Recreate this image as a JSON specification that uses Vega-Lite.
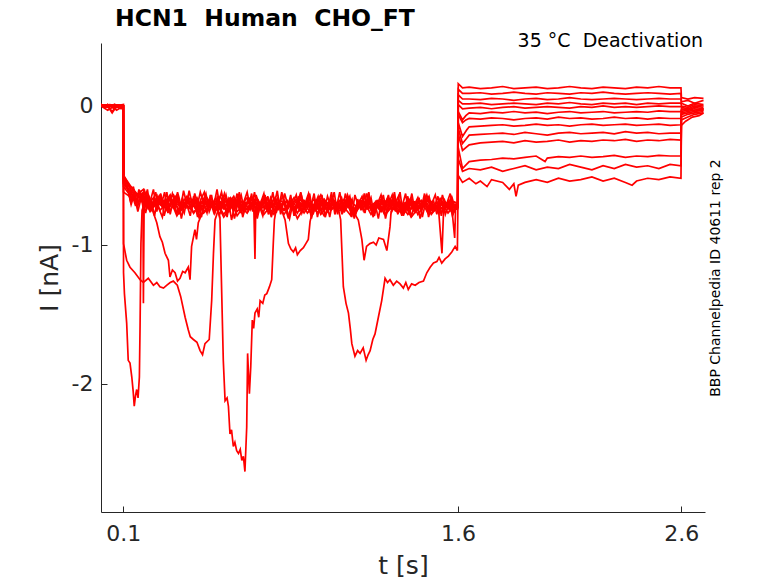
{
"$schema": "https://vega.github.io/schema/vega-lite/v6.json",
"width": 604, "height": 469,
"autosize": {"type": "none"},
"padding": {"left": 101, "top": 43, "right": 73, "bottom": 71},
"background": "white",
"title": {"text": "HCN1\u00a0 Human\u00a0 CHO_FT", "anchor": "start", "frame": "group", "font": "DejaVu Sans", "fontSize": 23.5, "fontWeight": "bold", "color": "#000000", "dx": 14, "offset": 2},
"config": {"view": {"stroke": null}},
"data": {"values": [
{"s":1,"t":0,"v":0.01},{"s":1,"t":0.03,"v":0.0},{"s":1,"t":0.06,"v":0.01},{"s":1,"t":0.1,"v":0.0},{"s":1,"t":0.101,"v":-0.52},
{"s":1,"t":0.115,"v":-0.55},{"s":1,"t":0.13,"v":-0.66},{"s":1,"t":0.145,"v":-0.58},{"s":1,"t":0.16,"v":-0.70},{"s":1,"t":0.175,"v":-0.61},{"s":1,"t":0.19,"v":-0.74},{"s":1,"t":0.205,"v":-0.63},{"s":1,"t":0.22,"v":-0.69},{"s":1,"t":0.235,"v":-0.60},{"s":1,"t":0.25,"v":-0.76},{"s":1,"t":0.265,"v":-0.66},{"s":1,"t":0.28,"v":-0.72},{"s":1,"t":0.295,"v":-0.62},{"s":1,"t":0.31,"v":-0.78},{"s":1,"t":0.325,"v":-0.67},{"s":1,"t":0.34,"v":-0.64},{"s":1,"t":0.355,"v":-0.75},{"s":1,"t":0.37,"v":-0.61},{"s":1,"t":0.385,"v":-0.71},{"s":1,"t":0.40,"v":-0.79},{"s":1,"t":0.415,"v":-0.65},{"s":1,"t":0.43,"v":-0.73},{"s":1,"t":0.445,"v":-0.62},{"s":1,"t":0.46,"v":-0.70},{"s":1,"t":0.475,"v":-0.77},{"s":1,"t":0.49,"v":-0.64},{"s":1,"t":0.505,"v":-0.72},{"s":1,"t":0.52,"v":-0.60},{"s":1,"t":0.535,"v":-0.75},{"s":1,"t":0.55,"v":-0.68},{"s":1,"t":0.565,"v":-0.80},{"s":1,"t":0.58,"v":-0.66},{"s":1,"t":0.595,"v":-0.73},{"s":1,"t":0.61,"v":-0.63},{"s":1,"t":0.625,"v":-0.77},{"s":1,"t":0.64,"v":-0.69},{"s":1,"t":0.655,"v":-0.62},{"s":1,"t":0.67,"v":-0.74},{"s":1,"t":0.685,"v":-0.67},{"s":1,"t":0.70,"v":-0.81},{"s":1,"t":0.715,"v":-0.70},{"s":1,"t":0.73,"v":-0.63},{"s":1,"t":0.745,"v":-0.76},{"s":1,"t":0.76,"v":-0.66},{"s":1,"t":0.775,"v":-0.72},{"s":1,"t":0.79,"v":-0.61},{"s":1,"t":0.805,"v":-0.78},{"s":1,"t":0.82,"v":-0.68},{"s":1,"t":0.835,"v":-0.74},{"s":1,"t":0.85,"v":-0.64},{"s":1,"t":0.865,"v":-0.79},{"s":1,"t":0.88,"v":-0.70},{"s":1,"t":0.895,"v":-0.62},{"s":1,"t":0.91,"v":-0.75},{"s":1,"t":0.925,"v":-0.67},{"s":1,"t":0.94,"v":-0.73},{"s":1,"t":0.955,"v":-0.63},{"s":1,"t":0.97,"v":-0.80},{"s":1,"t":0.985,"v":-0.69},{"s":1,"t":1.00,"v":-0.76},{"s":1,"t":1.015,"v":-0.65},{"s":1,"t":1.03,"v":-0.72},{"s":1,"t":1.045,"v":-0.62},{"s":1,"t":1.06,"v":-0.78},{"s":1,"t":1.075,"v":-0.68},{"s":1,"t":1.09,"v":-0.74},{"s":1,"t":1.105,"v":-0.64},{"s":1,"t":1.12,"v":-0.71},{"s":1,"t":1.135,"v":-0.81},{"s":1,"t":1.15,"v":-0.67},{"s":1,"t":1.165,"v":-0.75},{"s":1,"t":1.18,"v":-0.63},{"s":1,"t":1.195,"v":-0.72},{"s":1,"t":1.21,"v":-0.66},{"s":1,"t":1.225,"v":-0.79},{"s":1,"t":1.24,"v":-0.70},{"s":1,"t":1.255,"v":-0.64},{"s":1,"t":1.27,"v":-0.76},{"s":1,"t":1.285,"v":-0.68},{"s":1,"t":1.30,"v":-0.73},{"s":1,"t":1.315,"v":-0.62},{"s":1,"t":1.33,"v":-0.78},{"s":1,"t":1.345,"v":-0.69},{"s":1,"t":1.36,"v":-0.75},{"s":1,"t":1.375,"v":-0.65},{"s":1,"t":1.39,"v":-0.80},{"s":1,"t":1.405,"v":-0.71},{"s":1,"t":1.42,"v":-0.66},{"s":1,"t":1.435,"v":-0.74},{"s":1,"t":1.45,"v":-0.63},{"s":1,"t":1.465,"v":-0.77},{"s":1,"t":1.48,"v":-0.69},{"s":1,"t":1.495,"v":-0.72},{"s":1,"t":1.51,"v":-0.65},{"s":1,"t":1.525,"v":-0.79},{"s":1,"t":1.54,"v":-0.68},{"s":1,"t":1.555,"v":-0.74},{"s":1,"t":1.57,"v":-0.66},{"s":1,"t":1.585,"v":-0.75},{"s":1,"t":1.599,"v":-0.70},
{"s":1,"t":1.601,"v":0.16},{"s":1,"t":1.62,"v":0.13},{"s":1,"t":1.65,"v":0.135},{"s":1,"t":1.70,"v":0.125},{"s":1,"t":1.75,"v":0.13},{"s":1,"t":1.80,"v":0.14},{"s":1,"t":1.85,"v":0.125},{"s":1,"t":1.90,"v":0.13},{"s":1,"t":1.95,"v":0.135},{"s":1,"t":2.00,"v":0.125},{"s":1,"t":2.05,"v":0.13},{"s":1,"t":2.10,"v":0.14},{"s":1,"t":2.15,"v":0.13},{"s":1,"t":2.20,"v":0.125},{"s":1,"t":2.25,"v":0.135},{"s":1,"t":2.30,"v":0.13},{"s":1,"t":2.35,"v":0.125},{"s":1,"t":2.40,"v":0.135},{"s":1,"t":2.45,"v":0.13},{"s":1,"t":2.50,"v":0.14},{"s":1,"t":2.55,"v":0.13},{"s":1,"t":2.599,"v":0.13},
{"s":1,"t":2.601,"v":0.06},{"s":1,"t":2.63,"v":0.05},{"s":1,"t":2.66,"v":0.06},{"s":1,"t":2.70,"v":0.055},

{"s":2,"t":0,"v":0.0},{"s":2,"t":0.03,"v":-0.03},{"s":2,"t":0.06,"v":0.0},{"s":2,"t":0.1,"v":0.01},{"s":2,"t":0.101,"v":-0.56},
{"s":2,"t":0.12,"v":-0.60},{"s":2,"t":0.135,"v":-0.71},{"s":2,"t":0.15,"v":-0.63},{"s":2,"t":0.165,"v":-0.76},{"s":2,"t":0.18,"v":-0.66},{"s":2,"t":0.195,"v":-0.61},{"s":2,"t":0.21,"v":-0.73},{"s":2,"t":0.225,"v":-0.68},{"s":2,"t":0.24,"v":-0.79},{"s":2,"t":0.255,"v":-0.65},{"s":2,"t":0.27,"v":-0.71},{"s":2,"t":0.285,"v":-0.62},{"s":2,"t":0.30,"v":-0.77},{"s":2,"t":0.315,"v":-0.69},{"s":2,"t":0.33,"v":-0.74},{"s":2,"t":0.345,"v":-0.64},{"s":2,"t":0.36,"v":-0.81},{"s":2,"t":0.375,"v":-0.70},{"s":2,"t":0.39,"v":-0.66},{"s":2,"t":0.405,"v":-0.75},{"s":2,"t":0.42,"v":-0.63},{"s":2,"t":0.435,"v":-0.72},{"s":2,"t":0.45,"v":-0.80},{"s":2,"t":0.465,"v":-0.68},{"s":2,"t":0.48,"v":-0.74},{"s":2,"t":0.495,"v":-0.64},{"s":2,"t":0.51,"v":-0.77},{"s":2,"t":0.525,"v":-0.70},{"s":2,"t":0.54,"v":-0.62},{"s":2,"t":0.555,"v":-0.73},{"s":2,"t":0.57,"v":-0.67},{"s":2,"t":0.585,"v":-0.82},{"s":2,"t":0.60,"v":-0.71},{"s":2,"t":0.615,"v":-0.65},{"s":2,"t":0.63,"v":-0.76},{"s":2,"t":0.645,"v":-0.69},{"s":2,"t":0.66,"v":-0.74},{"s":2,"t":0.675,"v":-0.63},{"s":2,"t":0.69,"v":-0.79},{"s":2,"t":0.705,"v":-0.68},{"s":2,"t":0.72,"v":-0.72},{"s":2,"t":0.735,"v":-0.64},{"s":2,"t":0.75,"v":-0.78},{"s":2,"t":0.765,"v":-0.70},{"s":2,"t":0.78,"v":-0.66},{"s":2,"t":0.795,"v":-0.75},{"s":2,"t":0.81,"v":-0.62},{"s":2,"t":0.825,"v":-0.73},{"s":2,"t":0.84,"v":-0.81},{"s":2,"t":0.855,"v":-0.69},{"s":2,"t":0.87,"v":-0.74},{"s":2,"t":0.885,"v":-0.65},{"s":2,"t":0.90,"v":-0.77},{"s":2,"t":0.915,"v":-0.70},{"s":2,"t":0.93,"v":-0.63},{"s":2,"t":0.945,"v":-0.76},{"s":2,"t":0.96,"v":-0.68},{"s":2,"t":0.975,"v":-0.73},{"s":2,"t":0.99,"v":-0.64},{"s":2,"t":1.005,"v":-0.80},{"s":2,"t":1.02,"v":-0.71},{"s":2,"t":1.035,"v":-0.66},{"s":2,"t":1.05,"v":-0.75},{"s":2,"t":1.065,"v":-0.69},{"s":2,"t":1.08,"v":-0.78},{"s":2,"t":1.095,"v":-0.63},{"s":2,"t":1.11,"v":-0.72},{"s":2,"t":1.125,"v":-0.67},{"s":2,"t":1.14,"v":-0.79},{"s":2,"t":1.155,"v":-0.70},{"s":2,"t":1.17,"v":-0.65},{"s":2,"t":1.185,"v":-0.74},{"s":2,"t":1.20,"v":-0.62},{"s":2,"t":1.215,"v":-0.77},{"s":2,"t":1.23,"v":-0.69},{"s":2,"t":1.245,"v":-0.73},{"s":2,"t":1.26,"v":-0.66},{"s":2,"t":1.275,"v":-0.81},{"s":2,"t":1.29,"v":-0.70},{"s":2,"t":1.305,"v":-0.64},{"s":2,"t":1.32,"v":-0.76},{"s":2,"t":1.335,"v":-0.68},{"s":2,"t":1.35,"v":-0.72},{"s":2,"t":1.365,"v":-0.63},{"s":2,"t":1.38,"v":-0.78},{"s":2,"t":1.395,"v":-0.70},{"s":2,"t":1.41,"v":-0.74},{"s":2,"t":1.425,"v":-0.66},{"s":2,"t":1.44,"v":-0.80},{"s":2,"t":1.455,"v":-0.69},{"s":2,"t":1.47,"v":-0.65},{"s":2,"t":1.485,"v":-0.75},{"s":2,"t":1.50,"v":-0.71},{"s":2,"t":1.515,"v":-0.77},{"s":2,"t":1.53,"v":-0.64},{"s":2,"t":1.545,"v":-0.73},{"s":2,"t":1.56,"v":-0.68},{"s":2,"t":1.575,"v":-0.79},{"s":2,"t":1.59,"v":-0.71},{"s":2,"t":1.599,"v":-0.72},
{"s":2,"t":1.601,"v":0.12},{"s":2,"t":1.62,"v":0.09},{"s":2,"t":1.65,"v":0.09},{"s":2,"t":1.70,"v":0.095},{"s":2,"t":1.75,"v":0.085},{"s":2,"t":1.80,"v":0.09},{"s":2,"t":1.85,"v":0.10},{"s":2,"t":1.90,"v":0.09},{"s":2,"t":1.95,"v":0.085},{"s":2,"t":2.00,"v":0.095},{"s":2,"t":2.05,"v":0.09},{"s":2,"t":2.10,"v":0.085},{"s":2,"t":2.15,"v":0.095},{"s":2,"t":2.20,"v":0.09},{"s":2,"t":2.25,"v":0.10},{"s":2,"t":2.30,"v":0.09},{"s":2,"t":2.35,"v":0.085},{"s":2,"t":2.40,"v":0.09},{"s":2,"t":2.45,"v":0.095},{"s":2,"t":2.50,"v":0.09},{"s":2,"t":2.55,"v":0.085},{"s":2,"t":2.599,"v":0.09},
{"s":2,"t":2.601,"v":0.03},{"s":2,"t":2.63,"v":0.04},{"s":2,"t":2.66,"v":0.02},{"s":2,"t":2.70,"v":0.04},

{"s":3,"t":0,"v":0.01},{"s":3,"t":0.03,"v":0.0},{"s":3,"t":0.05,"v":-0.04},{"s":3,"t":0.07,"v":0.0},{"s":3,"t":0.1,"v":0.0},{"s":3,"t":0.101,"v":-0.50},
{"s":3,"t":0.125,"v":-0.57},{"s":3,"t":0.14,"v":-0.64},{"s":3,"t":0.155,"v":-0.72},{"s":3,"t":0.17,"v":-0.60},{"s":3,"t":0.185,"v":-0.68},{"s":3,"t":0.20,"v":-0.77},{"s":3,"t":0.215,"v":-0.65},{"s":3,"t":0.23,"v":-0.71},{"s":3,"t":0.245,"v":-0.62},{"s":3,"t":0.26,"v":-0.74},{"s":3,"t":0.275,"v":-0.80},{"s":3,"t":0.29,"v":-0.67},{"s":3,"t":0.305,"v":-0.73},{"s":3,"t":0.32,"v":-0.63},{"s":3,"t":0.335,"v":-0.70},{"s":3,"t":0.35,"v":-0.78},{"s":3,"t":0.365,"v":-0.66},{"s":3,"t":0.38,"v":-0.74},{"s":3,"t":0.395,"v":-0.61},{"s":3,"t":0.41,"v":-0.72},{"s":3,"t":0.425,"v":-0.68},{"s":3,"t":0.44,"v":-0.81},{"s":3,"t":0.455,"v":-0.69},{"s":3,"t":0.47,"v":-0.63},{"s":3,"t":0.485,"v":-0.76},{"s":3,"t":0.50,"v":-0.70},{"s":3,"t":0.515,"v":-0.66},{"s":3,"t":0.53,"v":-0.79},{"s":3,"t":0.545,"v":-0.72},{"s":3,"t":0.56,"v":-0.64},{"s":3,"t":0.575,"v":-0.75},{"s":3,"t":0.59,"v":-0.68},{"s":3,"t":0.605,"v":-0.73},{"s":3,"t":0.62,"v":-0.62},{"s":3,"t":0.635,"v":-0.80},{"s":3,"t":0.65,"v":-0.71},{"s":3,"t":0.665,"v":-0.67},{"s":3,"t":0.68,"v":-0.76},{"s":3,"t":0.695,"v":-0.64},{"s":3,"t":0.71,"v":-0.72},{"s":3,"t":0.725,"v":-0.79},{"s":3,"t":0.74,"v":-0.68},{"s":3,"t":0.755,"v":-0.74},{"s":3,"t":0.77,"v":-0.62},{"s":3,"t":0.785,"v":-0.77},{"s":3,"t":0.80,"v":-0.69},{"s":3,"t":0.815,"v":-0.65},{"s":3,"t":0.83,"v":-0.73},{"s":3,"t":0.845,"v":-0.81},{"s":3,"t":0.86,"v":-0.70},{"s":3,"t":0.875,"v":-0.64},{"s":3,"t":0.89,"v":-0.76},{"s":3,"t":0.905,"v":-0.68},{"s":3,"t":0.92,"v":-0.72},{"s":3,"t":0.935,"v":-0.63},{"s":3,"t":0.95,"v":-0.78},{"s":3,"t":0.965,"v":-0.71},{"s":3,"t":0.98,"v":-0.66},{"s":3,"t":0.995,"v":-0.74},{"s":3,"t":1.01,"v":-0.69},{"s":3,"t":1.025,"v":-0.80},{"s":3,"t":1.04,"v":-0.67},{"s":3,"t":1.055,"v":-0.73},{"s":3,"t":1.07,"v":-0.62},{"s":3,"t":1.085,"v":-0.76},{"s":3,"t":1.10,"v":-0.70},{"s":3,"t":1.115,"v":-0.65},{"s":3,"t":1.13,"v":-0.78},{"s":3,"t":1.145,"v":-0.72},{"s":3,"t":1.16,"v":-0.68},{"s":3,"t":1.175,"v":-0.75},{"s":3,"t":1.19,"v":-0.63},{"s":3,"t":1.205,"v":-0.71},{"s":3,"t":1.22,"v":-0.80},{"s":3,"t":1.235,"v":-0.69},{"s":3,"t":1.25,"v":-0.74},{"s":3,"t":1.265,"v":-0.64},{"s":3,"t":1.28,"v":-0.77},{"s":3,"t":1.295,"v":-0.70},{"s":3,"t":1.31,"v":-0.66},{"s":3,"t":1.325,"v":-0.73},{"s":3,"t":1.34,"v":-0.62},{"s":3,"t":1.355,"v":-0.79},{"s":3,"t":1.37,"v":-0.71},{"s":3,"t":1.385,"v":-0.67},{"s":3,"t":1.40,"v":-0.75},{"s":3,"t":1.415,"v":-0.69},{"s":3,"t":1.43,"v":-0.81},{"s":3,"t":1.445,"v":-0.70},{"s":3,"t":1.46,"v":-0.64},{"s":3,"t":1.475,"v":-0.73},{"s":3,"t":1.49,"v":-0.68},{"s":3,"t":1.505,"v":-0.78},{"s":3,"t":1.52,"v":-0.66},{"s":3,"t":1.535,"v":-0.74},{"s":3,"t":1.55,"v":-0.70},{"s":3,"t":1.565,"v":-0.63},{"s":3,"t":1.58,"v":-0.77},{"s":3,"t":1.595,"v":-0.72},
{"s":3,"t":1.601,"v":0.08},{"s":3,"t":1.62,"v":0.05},{"s":3,"t":1.65,"v":0.05},{"s":3,"t":1.70,"v":0.045},{"s":3,"t":1.75,"v":0.055},{"s":3,"t":1.80,"v":0.05},{"s":3,"t":1.85,"v":0.04},{"s":3,"t":1.90,"v":0.05},{"s":3,"t":1.95,"v":0.055},{"s":3,"t":2.00,"v":0.045},{"s":3,"t":2.05,"v":0.05},{"s":3,"t":2.10,"v":0.06},{"s":3,"t":2.15,"v":0.05},{"s":3,"t":2.20,"v":0.045},{"s":3,"t":2.25,"v":0.05},{"s":3,"t":2.30,"v":0.055},{"s":3,"t":2.35,"v":0.05},{"s":3,"t":2.40,"v":0.045},{"s":3,"t":2.45,"v":0.05},{"s":3,"t":2.50,"v":0.055},{"s":3,"t":2.55,"v":0.05},{"s":3,"t":2.599,"v":0.05},
{"s":3,"t":2.601,"v":0.02},{"s":3,"t":2.63,"v":0.0},{"s":3,"t":2.66,"v":0.02},{"s":3,"t":2.70,"v":0.01},

{"s":4,"t":0,"v":0.0},{"s":4,"t":0.03,"v":0.01},{"s":4,"t":0.06,"v":-0.02},{"s":4,"t":0.08,"v":0.0},{"s":4,"t":0.1,"v":0.0},{"s":4,"t":0.101,"v":-0.54},
{"s":4,"t":0.118,"v":-0.58},{"s":4,"t":0.133,"v":-0.69},{"s":4,"t":0.148,"v":-0.62},{"s":4,"t":0.163,"v":-0.73},{"s":4,"t":0.178,"v":-0.65},{"s":4,"t":0.193,"v":-0.70},{"s":4,"t":0.208,"v":-0.60},{"s":4,"t":0.223,"v":-0.76},{"s":4,"t":0.238,"v":-0.67},{"s":4,"t":0.253,"v":-0.72},{"s":4,"t":0.268,"v":-0.63},{"s":4,"t":0.283,"v":-0.79},{"s":4,"t":0.298,"v":-0.70},{"s":4,"t":0.313,"v":-0.66},{"s":4,"t":0.328,"v":-0.74},{"s":4,"t":0.343,"v":-0.62},{"s":4,"t":0.358,"v":-0.71},{"s":4,"t":0.373,"v":-0.77},{"s":4,"t":0.388,"v":-0.65},{"s":4,"t":0.403,"v":-0.73},{"s":4,"t":0.418,"v":-0.69},{"s":4,"t":0.433,"v":-0.80},{"s":4,"t":0.448,"v":-0.67},{"s":4,"t":0.463,"v":-0.62},{"s":4,"t":0.478,"v":-0.75},{"s":4,"t":0.493,"v":-0.70},{"s":4,"t":0.508,"v":-0.78},{"s":4,"t":0.523,"v":-0.66},{"s":4,"t":0.538,"v":-0.71},{"s":4,"t":0.553,"v":-0.63},{"s":4,"t":0.568,"v":-0.74},{"s":4,"t":0.583,"v":-0.68},{"s":4,"t":0.598,"v":-0.81},{"s":4,"t":0.613,"v":-0.70},{"s":4,"t":0.628,"v":-0.64},{"s":4,"t":0.643,"v":-0.76},{"s":4,"t":0.658,"v":-0.67},{"s":4,"t":0.673,"v":-0.73},{"s":4,"t":0.688,"v":-0.62},{"s":4,"t":0.703,"v":-0.78},{"s":4,"t":0.718,"v":-0.69},{"s":4,"t":0.733,"v":-0.74},{"s":4,"t":0.748,"v":-0.65},{"s":4,"t":0.763,"v":-0.80},{"s":4,"t":0.778,"v":-0.71},{"s":4,"t":0.793,"v":-0.66},{"s":4,"t":0.808,"v":-0.75},{"s":4,"t":0.823,"v":-0.63},{"s":4,"t":0.838,"v":-0.72},{"s":4,"t":0.853,"v":-0.68},{"s":4,"t":0.868,"v":-0.79},{"s":4,"t":0.883,"v":-0.70},{"s":4,"t":0.898,"v":-0.64},{"s":4,"t":0.913,"v":-0.74},{"s":4,"t":0.928,"v":-0.67},{"s":4,"t":0.943,"v":-0.81},{"s":4,"t":0.958,"v":-0.71},{"s":4,"t":0.973,"v":-0.65},{"s":4,"t":0.988,"v":-0.76},{"s":4,"t":1.003,"v":-0.69},{"s":4,"t":1.018,"v":-0.73},{"s":4,"t":1.033,"v":-0.62},{"s":4,"t":1.048,"v":-0.78},{"s":4,"t":1.063,"v":-0.70},{"s":4,"t":1.078,"v":-0.66},{"s":4,"t":1.093,"v":-0.75},{"s":4,"t":1.108,"v":-0.68},{"s":4,"t":1.123,"v":-0.80},{"s":4,"t":1.138,"v":-0.64},{"s":4,"t":1.153,"v":-0.72},{"s":4,"t":1.168,"v":-0.69},{"s":4,"t":1.183,"v":-0.77},{"s":4,"t":1.198,"v":-0.63},{"s":4,"t":1.213,"v":-0.74},{"s":4,"t":1.228,"v":-0.70},{"s":4,"t":1.243,"v":-0.81},{"s":4,"t":1.258,"v":-0.67},{"s":4,"t":1.273,"v":-0.72},{"s":4,"t":1.288,"v":-0.64},{"s":4,"t":1.303,"v":-0.76},{"s":4,"t":1.318,"v":-0.70},{"s":4,"t":1.333,"v":-0.65},{"s":4,"t":1.348,"v":-0.79},{"s":4,"t":1.363,"v":-0.71},{"s":4,"t":1.378,"v":-0.74},{"s":4,"t":1.393,"v":-0.63},{"s":4,"t":1.408,"v":-0.77},{"s":4,"t":1.423,"v":-0.69},{"s":4,"t":1.438,"v":-0.72},{"s":4,"t":1.453,"v":-0.66},{"s":4,"t":1.468,"v":-0.80},{"s":4,"t":1.483,"v":-0.70},{"s":4,"t":1.498,"v":-0.64},{"s":4,"t":1.513,"v":-0.75},{"s":4,"t":1.528,"v":-0.68},{"s":4,"t":1.543,"v":-0.78},{"s":4,"t":1.558,"v":-0.71},{"s":4,"t":1.573,"v":-0.66},{"s":4,"t":1.588,"v":-0.74},{"s":4,"t":1.599,"v":-0.69},
{"s":4,"t":1.601,"v":0.04},{"s":4,"t":1.62,"v":0.015},{"s":4,"t":1.65,"v":0.015},{"s":4,"t":1.70,"v":0.02},{"s":4,"t":1.75,"v":0.01},{"s":4,"t":1.80,"v":0.015},{"s":4,"t":1.85,"v":0.02},{"s":4,"t":1.90,"v":0.015},{"s":4,"t":1.95,"v":0.01},{"s":4,"t":2.00,"v":0.02},{"s":4,"t":2.05,"v":0.015},{"s":4,"t":2.10,"v":0.025},{"s":4,"t":2.15,"v":0.015},{"s":4,"t":2.20,"v":0.01},{"s":4,"t":2.25,"v":0.02},{"s":4,"t":2.30,"v":0.015},{"s":4,"t":2.35,"v":0.02},{"s":4,"t":2.40,"v":0.01},{"s":4,"t":2.45,"v":0.02},{"s":4,"t":2.50,"v":0.015},{"s":4,"t":2.55,"v":0.02},{"s":4,"t":2.599,"v":0.02},
{"s":4,"t":2.601,"v":0.0},{"s":4,"t":2.63,"v":-0.01},{"s":4,"t":2.66,"v":0.01},{"s":4,"t":2.70,"v":0.0},

{"s":5,"t":0,"v":0.0},{"s":5,"t":0.02,"v":-0.01},{"s":5,"t":0.04,"v":0.01},{"s":5,"t":0.07,"v":-0.03},{"s":5,"t":0.1,"v":0.0},{"s":5,"t":0.101,"v":-0.58},
{"s":5,"t":0.13,"v":-0.64},{"s":5,"t":0.16,"v":-0.70},{"s":5,"t":0.19,"v":-0.66},{"s":5,"t":0.22,"v":-0.76},{"s":5,"t":0.25,"v":-0.69},{"s":5,"t":0.28,"v":-0.73},{"s":5,"t":0.31,"v":-0.67},{"s":5,"t":0.34,"v":-0.79},{"s":5,"t":0.37,"v":-0.71},{"s":5,"t":0.40,"v":-0.74},{"s":5,"t":0.43,"v":-0.68},{"s":5,"t":0.46,"v":-0.77},{"s":5,"t":0.49,"v":-0.72},{"s":5,"t":0.52,"v":-0.70},{"s":5,"t":0.55,"v":-0.80},{"s":5,"t":0.58,"v":-0.73},{"s":5,"t":0.61,"v":-0.69},{"s":5,"t":0.64,"v":-0.76},{"s":5,"t":0.67,"v":-0.71},{"s":5,"t":0.70,"v":-0.74},{"s":5,"t":0.73,"v":-0.67},{"s":5,"t":0.76,"v":-0.78},{"s":5,"t":0.79,"v":-0.72},{"s":5,"t":0.82,"v":-0.75},{"s":5,"t":0.85,"v":-0.69},{"s":5,"t":0.88,"v":-0.81},{"s":5,"t":0.91,"v":-0.73},{"s":5,"t":0.94,"v":-0.70},{"s":5,"t":0.97,"v":-0.77},{"s":5,"t":1.00,"v":-0.72},{"s":5,"t":1.03,"v":-0.68},{"s":5,"t":1.06,"v":-0.76},{"s":5,"t":1.09,"v":-0.73},{"s":5,"t":1.12,"v":-0.79},{"s":5,"t":1.15,"v":-0.70},{"s":5,"t":1.18,"v":-0.75},{"s":5,"t":1.21,"v":-0.72},{"s":5,"t":1.24,"v":-0.68},{"s":5,"t":1.27,"v":-0.78},{"s":5,"t":1.30,"v":-0.73},{"s":5,"t":1.33,"v":-0.76},{"s":5,"t":1.36,"v":-0.70},{"s":5,"t":1.39,"v":-0.80},{"s":5,"t":1.42,"v":-0.74},{"s":5,"t":1.45,"v":-0.71},{"s":5,"t":1.48,"v":-0.77},{"s":5,"t":1.51,"v":-0.73},{"s":5,"t":1.54,"v":-0.69},{"s":5,"t":1.57,"v":-0.75},{"s":5,"t":1.599,"v":-0.74},
{"s":5,"t":1.601,"v":0.01},{"s":5,"t":1.62,"v":-0.02},{"s":5,"t":1.65,"v":-0.015},{"s":5,"t":1.70,"v":-0.01},{"s":5,"t":1.75,"v":-0.02},{"s":5,"t":1.80,"v":-0.01},{"s":5,"t":1.85,"v":-0.005},{"s":5,"t":1.90,"v":-0.015},{"s":5,"t":1.95,"v":-0.01},{"s":5,"t":2.00,"v":-0.005},{"s":5,"t":2.05,"v":-0.01},{"s":5,"t":2.10,"v":-0.015},{"s":5,"t":2.15,"v":-0.005},{"s":5,"t":2.20,"v":-0.01},{"s":5,"t":2.25,"v":0.0},{"s":5,"t":2.30,"v":-0.01},{"s":5,"t":2.35,"v":-0.005},{"s":5,"t":2.40,"v":-0.01},{"s":5,"t":2.45,"v":-0.005},{"s":5,"t":2.50,"v":0.0},{"s":5,"t":2.55,"v":-0.005},{"s":5,"t":2.599,"v":-0.005},
{"s":5,"t":2.601,"v":-0.01},{"s":5,"t":2.63,"v":-0.02},{"s":5,"t":2.66,"v":0.0},{"s":5,"t":2.70,"v":-0.01},

{"s":6,"t":0,"v":0.01},{"s":6,"t":0.03,"v":0.0},{"s":6,"t":0.06,"v":0.01},{"s":6,"t":0.1,"v":0.0},{"s":6,"t":0.101,"v":-0.62},
{"s":6,"t":0.145,"v":-0.67},{"s":6,"t":0.175,"v":-0.62},{"s":6,"t":0.205,"v":-0.72},{"s":6,"t":0.235,"v":-0.66},{"s":6,"t":0.265,"v":-0.75},{"s":6,"t":0.295,"v":-0.69},{"s":6,"t":0.325,"v":-0.64},{"s":6,"t":0.355,"v":-0.73},{"s":6,"t":0.385,"v":-0.68},{"s":6,"t":0.415,"v":-0.77},{"s":6,"t":0.445,"v":-0.70},{"s":6,"t":0.475,"v":-0.66},{"s":6,"t":0.505,"v":-0.74},{"s":6,"t":0.535,"v":-0.69},{"s":6,"t":0.565,"v":-0.72},{"s":6,"t":0.595,"v":-0.65},{"s":6,"t":0.625,"v":-0.76},{"s":6,"t":0.655,"v":-0.70},{"s":6,"t":0.685,"v":-0.67},{"s":6,"t":0.715,"v":-0.74},{"s":6,"t":0.745,"v":-0.71},{"s":6,"t":0.775,"v":-0.78},{"s":6,"t":0.805,"v":-0.68},{"s":6,"t":0.835,"v":-0.73},{"s":6,"t":0.865,"v":-0.66},{"s":6,"t":0.895,"v":-0.75},{"s":6,"t":0.925,"v":-0.70},{"s":6,"t":0.955,"v":-0.72},{"s":6,"t":0.985,"v":-0.64},{"s":6,"t":1.015,"v":-0.76},{"s":6,"t":1.045,"v":-0.69},{"s":6,"t":1.075,"v":-0.73},{"s":6,"t":1.105,"v":-0.67},{"s":6,"t":1.135,"v":-0.78},{"s":6,"t":1.165,"v":-0.71},{"s":6,"t":1.195,"v":-0.68},{"s":6,"t":1.225,"v":-0.75},{"s":6,"t":1.255,"v":-0.70},{"s":6,"t":1.285,"v":-0.73},{"s":6,"t":1.315,"v":-0.66},{"s":6,"t":1.345,"v":-0.77},{"s":6,"t":1.375,"v":-0.71},{"s":6,"t":1.405,"v":-0.69},{"s":6,"t":1.435,"v":-0.74},{"s":6,"t":1.465,"v":-0.67},{"s":6,"t":1.495,"v":-0.72},{"s":6,"t":1.525,"v":-0.76},{"s":6,"t":1.555,"v":-0.70},{"s":6,"t":1.585,"v":-0.73},{"s":6,"t":1.599,"v":-0.72},
{"s":6,"t":1.601,"v":-0.04},{"s":6,"t":1.62,"v":-0.10},{"s":6,"t":1.635,"v":-0.07},{"s":6,"t":1.65,"v":-0.05},{"s":6,"t":1.70,"v":-0.055},{"s":6,"t":1.75,"v":-0.045},{"s":6,"t":1.80,"v":-0.05},{"s":6,"t":1.85,"v":-0.04},{"s":6,"t":1.90,"v":-0.05},{"s":6,"t":1.95,"v":-0.045},{"s":6,"t":2.00,"v":-0.055},{"s":6,"t":2.05,"v":-0.045},{"s":6,"t":2.10,"v":-0.04},{"s":6,"t":2.15,"v":-0.05},{"s":6,"t":2.20,"v":-0.045},{"s":6,"t":2.25,"v":-0.04},{"s":6,"t":2.30,"v":-0.05},{"s":6,"t":2.35,"v":-0.045},{"s":6,"t":2.40,"v":-0.04},{"s":6,"t":2.45,"v":-0.045},{"s":6,"t":2.50,"v":-0.035},{"s":6,"t":2.55,"v":-0.04},{"s":6,"t":2.599,"v":-0.04},
{"s":6,"t":2.601,"v":-0.02},{"s":6,"t":2.63,"v":-0.03},{"s":6,"t":2.66,"v":-0.01},{"s":6,"t":2.70,"v":-0.02},

{"s":7,"t":0,"v":0.0},{"s":7,"t":0.03,"v":0.01},{"s":7,"t":0.06,"v":0.0},{"s":7,"t":0.1,"v":0.0},{"s":7,"t":0.101,"v":-0.55},
{"s":7,"t":0.13,"v":-0.62},{"s":7,"t":0.16,"v":-0.69},{"s":7,"t":0.19,"v":-0.65},{"s":7,"t":0.22,"v":-0.75},{"s":7,"t":0.25,"v":-0.68},{"s":7,"t":0.28,"v":-0.71},{"s":7,"t":0.31,"v":-0.64},{"s":7,"t":0.34,"v":-0.77},{"s":7,"t":0.37,"v":-0.70},{"s":7,"t":0.40,"v":-0.73},{"s":7,"t":0.43,"v":-0.66},{"s":7,"t":0.46,"v":-0.76},{"s":7,"t":0.49,"v":-0.71},{"s":7,"t":0.52,"v":-0.68},{"s":7,"t":0.55,"v":-0.74},{"s":7,"t":0.58,"v":-0.67},{"s":7,"t":0.61,"v":-0.79},{"s":7,"t":0.64,"v":-0.72},{"s":7,"t":0.67,"v":-0.69},{"s":7,"t":0.70,"v":-0.75},{"s":7,"t":0.73,"v":-0.66},{"s":7,"t":0.76,"v":-0.73},{"s":7,"t":0.79,"v":-0.70},{"s":7,"t":0.82,"v":-0.78},{"s":7,"t":0.85,"v":-0.71},{"s":7,"t":0.88,"v":-0.67},{"s":7,"t":0.91,"v":-0.74},{"s":7,"t":0.94,"v":-0.69},{"s":7,"t":0.97,"v":-0.77},{"s":7,"t":1.00,"v":-0.72},{"s":7,"t":1.03,"v":-0.68},{"s":7,"t":1.06,"v":-0.75},{"s":7,"t":1.09,"v":-0.70},{"s":7,"t":1.12,"v":-0.73},
{"s":7,"t":1.153,"v":-0.82},{"s":7,"t":1.169,"v":-0.96},{"s":7,"t":1.179,"v":-1.11},{"s":7,"t":1.19,"v":-1.01},{"s":7,"t":1.205,"v":-0.99},{"s":7,"t":1.221,"v":-0.98},{"s":7,"t":1.233,"v":-1.0},{"s":7,"t":1.245,"v":-0.95},{"s":7,"t":1.266,"v":-0.96},{"s":7,"t":1.281,"v":-1.04},{"s":7,"t":1.295,"v":-0.87},
{"s":7,"t":1.30,"v":-0.76},{"s":7,"t":1.33,"v":-0.70},{"s":7,"t":1.36,"v":-0.73},{"s":7,"t":1.39,"v":-0.67},{"s":7,"t":1.42,"v":-0.78},{"s":7,"t":1.45,"v":-0.71},{"s":7,"t":1.48,"v":-0.74},{"s":7,"t":1.51,"v":-0.69},{"s":7,"t":1.528,"v":-1.06},{"s":7,"t":1.535,"v":-0.76},{"s":7,"t":1.54,"v":-0.72},{"s":7,"t":1.57,"v":-0.75},{"s":7,"t":1.599,"v":-0.73},
{"s":7,"t":1.601,"v":-0.06},{"s":7,"t":1.62,"v":-0.12},{"s":7,"t":1.635,"v":-0.10},{"s":7,"t":1.65,"v":-0.09},{"s":7,"t":1.70,"v":-0.095},{"s":7,"t":1.75,"v":-0.085},{"s":7,"t":1.80,"v":-0.09},{"s":7,"t":1.85,"v":-0.10},{"s":7,"t":1.90,"v":-0.09},{"s":7,"t":1.95,"v":-0.085},{"s":7,"t":2.00,"v":-0.095},{"s":7,"t":2.05,"v":-0.08},{"s":7,"t":2.10,"v":-0.09},{"s":7,"t":2.15,"v":-0.085},{"s":7,"t":2.20,"v":-0.095},{"s":7,"t":2.25,"v":-0.09},{"s":7,"t":2.30,"v":-0.08},{"s":7,"t":2.35,"v":-0.09},{"s":7,"t":2.40,"v":-0.085},{"s":7,"t":2.45,"v":-0.095},{"s":7,"t":2.50,"v":-0.085},{"s":7,"t":2.55,"v":-0.09},{"s":7,"t":2.599,"v":-0.09},
{"s":7,"t":2.601,"v":-0.03},{"s":7,"t":2.63,"v":-0.02},{"s":7,"t":2.66,"v":-0.04},{"s":7,"t":2.70,"v":-0.02},

{"s":8,"t":0,"v":0.0},{"s":8,"t":0.03,"v":-0.01},{"s":8,"t":0.06,"v":0.01},{"s":8,"t":0.1,"v":0.0},{"s":8,"t":0.101,"v":-0.53},
{"s":8,"t":0.145,"v":-0.60},{"s":8,"t":0.175,"v":-0.66},{"s":8,"t":0.188,"v":-0.70},{"s":8,"t":0.19,"v":-1.42},{"s":8,"t":0.193,"v":-0.76},{"s":8,"t":0.205,"v":-0.68},{"s":8,"t":0.235,"v":-0.73},{"s":8,"t":0.265,"v":-0.66},{"s":8,"t":0.295,"v":-0.75},{"s":8,"t":0.325,"v":-0.69},{"s":8,"t":0.355,"v":-0.72},{"s":8,"t":0.385,"v":-0.65},{"s":8,"t":0.415,"v":-0.77},{"s":8,"t":0.445,"v":-0.70},{"s":8,"t":0.475,"v":-0.67},{"s":8,"t":0.505,"v":-0.74},{"s":8,"t":0.535,"v":-0.69},{"s":8,"t":0.565,"v":-0.76},{"s":8,"t":0.595,"v":-0.68},{"s":8,"t":0.625,"v":-0.72},{"s":8,"t":0.655,"v":-0.66},{"s":8,"t":0.685,"v":-0.74},{"s":8,"t":0.69,"v":-1.10},{"s":8,"t":0.693,"v":-0.78},{"s":8,"t":0.715,"v":-0.70},{"s":8,"t":0.745,"v":-0.75},{"s":8,"t":0.775,"v":-0.67},{"s":8,"t":0.805,"v":-0.73},
{"s":8,"t":0.825,"v":-0.82},{"s":8,"t":0.84,"v":-0.99},{"s":8,"t":0.851,"v":-1.03},{"s":8,"t":0.862,"v":-1.05},{"s":8,"t":0.872,"v":-1.02},{"s":8,"t":0.88,"v":-1.07},{"s":8,"t":0.893,"v":-1.04},{"s":8,"t":0.907,"v":-1.02},{"s":8,"t":0.918,"v":-0.99},{"s":8,"t":0.929,"v":-0.96},{"s":8,"t":0.937,"v":-0.83},
{"s":8,"t":0.955,"v":-0.71},{"s":8,"t":0.985,"v":-0.68},{"s":8,"t":1.015,"v":-0.75},{"s":8,"t":1.045,"v":-0.70},{"s":8,"t":1.075,"v":-0.73},{"s":8,"t":1.105,"v":-0.66},{"s":8,"t":1.135,"v":-0.77},{"s":8,"t":1.165,"v":-0.71},{"s":8,"t":1.195,"v":-0.69},{"s":8,"t":1.225,"v":-0.74},{"s":8,"t":1.255,"v":-0.67},{"s":8,"t":1.285,"v":-0.76},{"s":8,"t":1.315,"v":-0.70},{"s":8,"t":1.345,"v":-0.73},{"s":8,"t":1.375,"v":-0.68},{"s":8,"t":1.405,"v":-0.75},{"s":8,"t":1.435,"v":-0.71},{"s":8,"t":1.465,"v":-0.66},{"s":8,"t":1.495,"v":-0.74},{"s":8,"t":1.525,"v":-0.70},{"s":8,"t":1.555,"v":-0.77},{"s":8,"t":1.585,"v":-0.71},{"s":8,"t":1.599,"v":-0.72},
{"s":8,"t":1.601,"v":-0.12},{"s":8,"t":1.62,"v":-0.22},{"s":8,"t":1.64,"v":-0.17},{"s":8,"t":1.65,"v":-0.15},{"s":8,"t":1.70,"v":-0.145},{"s":8,"t":1.75,"v":-0.14},{"s":8,"t":1.80,"v":-0.135},{"s":8,"t":1.85,"v":-0.145},{"s":8,"t":1.90,"v":-0.14},{"s":8,"t":1.95,"v":-0.13},{"s":8,"t":2.00,"v":-0.14},{"s":8,"t":2.05,"v":-0.135},{"s":8,"t":2.10,"v":-0.145},{"s":8,"t":2.15,"v":-0.135},{"s":8,"t":2.20,"v":-0.13},{"s":8,"t":2.25,"v":-0.14},{"s":8,"t":2.30,"v":-0.135},{"s":8,"t":2.35,"v":-0.13},{"s":8,"t":2.40,"v":-0.14},{"s":8,"t":2.45,"v":-0.135},{"s":8,"t":2.50,"v":-0.13},{"s":8,"t":2.55,"v":-0.14},{"s":8,"t":2.599,"v":-0.135},
{"s":8,"t":2.601,"v":-0.04},{"s":8,"t":2.63,"v":-0.03},{"s":8,"t":2.66,"v":-0.02},{"s":8,"t":2.70,"v":-0.03},

{"s":9,"t":0,"v":0.01},{"s":9,"t":0.03,"v":0.0},{"s":9,"t":0.06,"v":-0.01},{"s":9,"t":0.1,"v":0.0},{"s":9,"t":0.101,"v":-0.50},
{"s":9,"t":0.13,"v":-0.57},{"s":9,"t":0.16,"v":-0.64},{"s":9,"t":0.19,"v":-0.60},{"s":9,"t":0.22,"v":-0.70},
{"s":9,"t":0.25,"v":-0.84},{"s":9,"t":0.264,"v":-0.94},{"s":9,"t":0.275,"v":-0.98},{"s":9,"t":0.287,"v":-1.06},{"s":9,"t":0.302,"v":-1.11},{"s":9,"t":0.309,"v":-1.23},{"s":9,"t":0.32,"v":-1.18},{"s":9,"t":0.332,"v":-1.20},{"s":9,"t":0.343,"v":-1.26},{"s":9,"t":0.354,"v":-1.24},{"s":9,"t":0.366,"v":-1.19},{"s":9,"t":0.377,"v":-1.20},{"s":9,"t":0.391,"v":-1.16},{"s":9,"t":0.399,"v":-1.25},{"s":9,"t":0.406,"v":-1.01},{"s":9,"t":0.421,"v":-0.89},{"s":9,"t":0.428,"v":-0.96},{"s":9,"t":0.436,"v":-0.84},
{"s":9,"t":0.46,"v":-0.74},{"s":9,"t":0.49,"v":-0.68},{"s":9,"t":0.52,"v":-0.75},{"s":9,"t":0.55,"v":-0.70},{"s":9,"t":0.58,"v":-0.66},{"s":9,"t":0.61,"v":-0.76},{"s":9,"t":0.64,"v":-0.71},{"s":9,"t":0.67,"v":-0.73},{"s":9,"t":0.70,"v":-0.67},{"s":9,"t":0.73,"v":-0.78},{"s":9,"t":0.76,"v":-0.72},{"s":9,"t":0.79,"v":-0.69},{"s":9,"t":0.82,"v":-0.75},{"s":9,"t":0.85,"v":-0.70},{"s":9,"t":0.88,"v":-0.77},{"s":9,"t":0.91,"v":-0.68},{"s":9,"t":0.94,"v":-0.73},{"s":9,"t":0.97,"v":-0.71},{"s":9,"t":1.00,"v":-0.79},{"s":9,"t":1.03,"v":-0.70},{"s":9,"t":1.06,"v":-0.74},{"s":9,"t":1.09,"v":-0.67},{"s":9,"t":1.12,"v":-0.76},{"s":9,"t":1.15,"v":-0.72},{"s":9,"t":1.18,"v":-0.69},{"s":9,"t":1.21,"v":-0.78},{"s":9,"t":1.24,"v":-0.71},{"s":9,"t":1.27,"v":-0.74},{"s":9,"t":1.30,"v":-0.68},{"s":9,"t":1.33,"v":-0.77},{"s":9,"t":1.36,"v":-0.72},{"s":9,"t":1.39,"v":-0.70},{"s":9,"t":1.42,"v":-0.75},{"s":9,"t":1.45,"v":-0.69},{"s":9,"t":1.48,"v":-0.78},{"s":9,"t":1.51,"v":-0.72},{"s":9,"t":1.54,"v":-0.74},{"s":9,"t":1.57,"v":-0.70},{"s":9,"t":1.585,"v":-0.95},{"s":9,"t":1.589,"v":-0.74},{"s":9,"t":1.599,"v":-0.73},
{"s":9,"t":1.601,"v":-0.16},{"s":9,"t":1.62,"v":-0.27},{"s":9,"t":1.64,"v":-0.23},{"s":9,"t":1.65,"v":-0.21},{"s":9,"t":1.70,"v":-0.205},{"s":9,"t":1.75,"v":-0.20},{"s":9,"t":1.80,"v":-0.195},{"s":9,"t":1.85,"v":-0.205},{"s":9,"t":1.90,"v":-0.19},{"s":9,"t":1.95,"v":-0.20},{"s":9,"t":2.00,"v":-0.21},{"s":9,"t":2.05,"v":-0.195},{"s":9,"t":2.10,"v":-0.19},{"s":9,"t":2.15,"v":-0.20},{"s":9,"t":2.20,"v":-0.195},{"s":9,"t":2.25,"v":-0.19},{"s":9,"t":2.30,"v":-0.20},{"s":9,"t":2.35,"v":-0.185},{"s":9,"t":2.40,"v":-0.195},{"s":9,"t":2.45,"v":-0.19},{"s":9,"t":2.50,"v":-0.20},{"s":9,"t":2.55,"v":-0.195},{"s":9,"t":2.599,"v":-0.195},
{"s":9,"t":2.601,"v":-0.05},{"s":9,"t":2.63,"v":-0.04},{"s":9,"t":2.66,"v":-0.03},{"s":9,"t":2.70,"v":-0.02},

{"s":10,"t":0,"v":0.0},{"s":10,"t":0.03,"v":0.01},{"s":10,"t":0.06,"v":-0.01},{"s":10,"t":0.1,"v":0.0},
{"s":10,"t":0.101,"v":-0.99},{"s":10,"t":0.115,"v":-1.11},{"s":10,"t":0.13,"v":-1.16},{"s":10,"t":0.152,"v":-1.20},{"s":10,"t":0.175,"v":-1.25},{"s":10,"t":0.19,"v":-1.27},{"s":10,"t":0.212,"v":-1.24},{"s":10,"t":0.235,"v":-1.29},{"s":10,"t":0.25,"v":-1.27},{"s":10,"t":0.264,"v":-1.30},{"s":10,"t":0.28,"v":-1.31},{"s":10,"t":0.294,"v":-1.29},{"s":10,"t":0.31,"v":-1.27},{"s":10,"t":0.324,"v":-1.26},{"s":10,"t":0.342,"v":-1.29},{"s":10,"t":0.357,"v":-1.37},{"s":10,"t":0.377,"v":-1.52},{"s":10,"t":0.391,"v":-1.61},{"s":10,"t":0.40,"v":-1.66},{"s":10,"t":0.414,"v":-1.68},{"s":10,"t":0.43,"v":-1.70},{"s":10,"t":0.444,"v":-1.76},{"s":10,"t":0.455,"v":-1.79},{"s":10,"t":0.466,"v":-1.71},{"s":10,"t":0.485,"v":-1.68},{"s":10,"t":0.496,"v":-1.40},{"s":10,"t":0.504,"v":-1.06},{"s":10,"t":0.511,"v":-0.82},
{"s":10,"t":0.535,"v":-0.70},{"s":10,"t":0.565,"v":-0.74},{"s":10,"t":0.595,"v":-0.67},{"s":10,"t":0.625,"v":-0.72},{"s":10,"t":0.655,"v":-0.77},{"s":10,"t":0.685,"v":-0.69},{"s":10,"t":0.715,"v":-0.73},{"s":10,"t":0.745,"v":-0.66},{"s":10,"t":0.775,"v":-0.75},{"s":10,"t":0.805,"v":-0.71},{"s":10,"t":0.835,"v":-0.68},{"s":10,"t":0.865,"v":-0.76},{"s":10,"t":0.895,"v":-0.70},{"s":10,"t":0.925,"v":-0.73},{"s":10,"t":0.955,"v":-0.67},{"s":10,"t":0.985,"v":-0.78},{"s":10,"t":1.015,"v":-0.72},{"s":10,"t":1.045,"v":-0.69},{"s":10,"t":1.075,"v":-0.74},{"s":10,"t":1.105,"v":-0.70},{"s":10,"t":1.135,"v":-0.77},{"s":10,"t":1.165,"v":-0.68},{"s":10,"t":1.195,"v":-0.73},{"s":10,"t":1.225,"v":-0.71},{"s":10,"t":1.255,"v":-0.75},{"s":10,"t":1.285,"v":-0.66},{"s":10,"t":1.315,"v":-0.72},{"s":10,"t":1.345,"v":-0.76},{"s":10,"t":1.375,"v":-0.70},{"s":10,"t":1.405,"v":-0.73},{"s":10,"t":1.435,"v":-0.68},{"s":10,"t":1.465,"v":-0.77},{"s":10,"t":1.495,"v":-0.71},{"s":10,"t":1.525,"v":-0.74},{"s":10,"t":1.555,"v":-0.69},{"s":10,"t":1.585,"v":-0.72},{"s":10,"t":1.599,"v":-0.71},
{"s":10,"t":1.601,"v":-0.20},{"s":10,"t":1.62,"v":-0.32},{"s":10,"t":1.65,"v":-0.28},{"s":10,"t":1.70,"v":-0.265},{"s":10,"t":1.75,"v":-0.26},{"s":10,"t":1.80,"v":-0.255},{"s":10,"t":1.85,"v":-0.265},{"s":10,"t":1.90,"v":-0.25},{"s":10,"t":1.95,"v":-0.26},{"s":10,"t":2.00,"v":-0.255},{"s":10,"t":2.05,"v":-0.245},{"s":10,"t":2.10,"v":-0.26},{"s":10,"t":2.15,"v":-0.25},{"s":10,"t":2.20,"v":-0.255},{"s":10,"t":2.25,"v":-0.245},{"s":10,"t":2.30,"v":-0.25},{"s":10,"t":2.35,"v":-0.24},{"s":10,"t":2.40,"v":-0.255},{"s":10,"t":2.45,"v":-0.245},{"s":10,"t":2.50,"v":-0.25},{"s":10,"t":2.55,"v":-0.24},{"s":10,"t":2.599,"v":-0.245},
{"s":10,"t":2.601,"v":-0.06},{"s":10,"t":2.63,"v":-0.05},{"s":10,"t":2.66,"v":-0.04},{"s":10,"t":2.70,"v":-0.03},

{"s":11,"t":0,"v":0.0},{"s":11,"t":0.03,"v":0.0},{"s":11,"t":0.05,"v":-0.05},{"s":11,"t":0.07,"v":0.0},{"s":11,"t":0.1,"v":0.0},{"s":11,"t":0.101,"v":-0.52},
{"s":11,"t":0.13,"v":-0.59},{"s":11,"t":0.16,"v":-0.67},{"s":11,"t":0.19,"v":-0.62},{"s":11,"t":0.22,"v":-0.72},{"s":11,"t":0.25,"v":-0.66},{"s":11,"t":0.28,"v":-0.70},{"s":11,"t":0.31,"v":-0.75},{"s":11,"t":0.34,"v":-0.68},{"s":11,"t":0.37,"v":-0.73},{"s":11,"t":0.40,"v":-0.66},{"s":11,"t":0.43,"v":-0.76},{"s":11,"t":0.46,"v":-0.71},{"s":11,"t":0.49,"v":-0.69},{"s":11,"t":0.52,"v":-0.74},
{"s":11,"t":0.533,"v":-0.80},{"s":11,"t":0.541,"v":-1.35},{"s":11,"t":0.548,"v":-1.83},{"s":11,"t":0.556,"v":-2.12},{"s":11,"t":0.565,"v":-2.10},{"s":11,"t":0.571,"v":-2.16},{"s":11,"t":0.578,"v":-2.36},{"s":11,"t":0.585,"v":-2.33},{"s":11,"t":0.593,"v":-2.45},{"s":11,"t":0.60,"v":-2.42},{"s":11,"t":0.608,"v":-2.48},{"s":11,"t":0.616,"v":-2.50},{"s":11,"t":0.624,"v":-2.47},{"s":11,"t":0.631,"v":-2.55},{"s":11,"t":0.638,"v":-2.52},{"s":11,"t":0.645,"v":-2.63},{"s":11,"t":0.653,"v":-2.31},{"s":11,"t":0.657,"v":-1.78},{"s":11,"t":0.665,"v":-2.07},{"s":11,"t":0.671,"v":-1.88},{"s":11,"t":0.678,"v":-1.54},{"s":11,"t":0.684,"v":-1.60},{"s":11,"t":0.69,"v":-1.49},{"s":11,"t":0.70,"v":-1.46},{"s":11,"t":0.707,"v":-1.52},{"s":11,"t":0.713,"v":-1.40},{"s":11,"t":0.725,"v":-1.42},{"s":11,"t":0.734,"v":-1.36},{"s":11,"t":0.743,"v":-1.35},{"s":11,"t":0.755,"v":-1.30},{"s":11,"t":0.765,"v":-1.25},{"s":11,"t":0.772,"v":-0.99},{"s":11,"t":0.777,"v":-0.82},
{"s":11,"t":0.79,"v":-0.70},{"s":11,"t":0.82,"v":-0.75},{"s":11,"t":0.85,"v":-0.68},{"s":11,"t":0.88,"v":-0.73},{"s":11,"t":0.91,"v":-0.70},{"s":11,"t":0.94,"v":-0.77},{"s":11,"t":0.97,"v":-0.71},{"s":11,"t":1.00,"v":-0.67},{"s":11,"t":1.03,"v":-0.74},{"s":11,"t":1.06,"v":-0.70},{"s":11,"t":1.09,"v":-0.76},{"s":11,"t":1.12,"v":-0.69},{"s":11,"t":1.15,"v":-0.73},{"s":11,"t":1.18,"v":-0.66},{"s":11,"t":1.21,"v":-0.75},{"s":11,"t":1.24,"v":-0.71},{"s":11,"t":1.27,"v":-0.68},{"s":11,"t":1.30,"v":-0.74},{"s":11,"t":1.33,"v":-0.70},{"s":11,"t":1.36,"v":-0.77},{"s":11,"t":1.39,"v":-0.69},{"s":11,"t":1.42,"v":-0.73},{"s":11,"t":1.45,"v":-0.67},{"s":11,"t":1.48,"v":-0.75},{"s":11,"t":1.51,"v":-0.71},{"s":11,"t":1.54,"v":-0.69},{"s":11,"t":1.57,"v":-0.76},{"s":11,"t":1.599,"v":-0.72},
{"s":11,"t":1.601,"v":-0.30},{"s":11,"t":1.62,"v":-0.45},{"s":11,"t":1.65,"v":-0.40},{"s":11,"t":1.70,"v":-0.39},{"s":11,"t":1.75,"v":-0.385},{"s":11,"t":1.80,"v":-0.375},{"s":11,"t":1.85,"v":-0.38},{"s":11,"t":1.90,"v":-0.37},{"s":11,"t":1.95,"v":-0.36},{"s":11,"t":1.99,"v":-0.40},{"s":11,"t":2.00,"v":-0.375},{"s":11,"t":2.05,"v":-0.365},{"s":11,"t":2.10,"v":-0.37},{"s":11,"t":2.15,"v":-0.36},{"s":11,"t":2.20,"v":-0.37},{"s":11,"t":2.25,"v":-0.365},{"s":11,"t":2.30,"v":-0.355},{"s":11,"t":2.35,"v":-0.37},{"s":11,"t":2.40,"v":-0.36},{"s":11,"t":2.45,"v":-0.365},{"s":11,"t":2.50,"v":-0.355},{"s":11,"t":2.55,"v":-0.36},{"s":11,"t":2.599,"v":-0.36},
{"s":11,"t":2.601,"v":-0.08},{"s":11,"t":2.63,"v":-0.06},{"s":11,"t":2.66,"v":-0.05},{"s":11,"t":2.70,"v":-0.04},

{"s":12,"t":0,"v":0.0},{"s":12,"t":0.03,"v":0.01},{"s":12,"t":0.06,"v":0.0},{"s":12,"t":0.09,"v":-0.02},{"s":12,"t":0.1,"v":0.0},
{"s":12,"t":0.101,"v":-1.20},{"s":12,"t":0.105,"v":-1.35},{"s":12,"t":0.115,"v":-1.56},{"s":12,"t":0.122,"v":-1.83},{"s":12,"t":0.13,"v":-1.85},{"s":12,"t":0.138,"v":-1.95},{"s":12,"t":0.144,"v":-2.05},{"s":12,"t":0.149,"v":-2.16},{"s":12,"t":0.155,"v":-2.08},{"s":12,"t":0.16,"v":-2.04},{"s":12,"t":0.166,"v":-2.10},{"s":12,"t":0.172,"v":-1.95},{"s":12,"t":0.175,"v":-1.59},{"s":12,"t":0.179,"v":-0.99},{"s":12,"t":0.184,"v":-0.75},
{"s":12,"t":0.205,"v":-0.66},{"s":12,"t":0.235,"v":-0.71},{"s":12,"t":0.265,"v":-0.64},{"s":12,"t":0.295,"v":-0.73},{"s":12,"t":0.325,"v":-0.68},{"s":12,"t":0.355,"v":-0.76},{"s":12,"t":0.385,"v":-0.70},{"s":12,"t":0.415,"v":-0.67},{"s":12,"t":0.445,"v":-0.74},{"s":12,"t":0.475,"v":-0.69},{"s":12,"t":0.505,"v":-0.72},{"s":12,"t":0.535,"v":-0.65},{"s":12,"t":0.565,"v":-0.77},{"s":12,"t":0.595,"v":-0.71},{"s":12,"t":0.625,"v":-0.68},{"s":12,"t":0.655,"v":-0.75},{"s":12,"t":0.685,"v":-0.70},{"s":12,"t":0.715,"v":-0.73},{"s":12,"t":0.745,"v":-0.66},{"s":12,"t":0.775,"v":-0.76},{"s":12,"t":0.805,"v":-0.71},{"s":12,"t":0.835,"v":-0.69},{"s":12,"t":0.865,"v":-0.74},{"s":12,"t":0.895,"v":-0.67},{"s":12,"t":0.925,"v":-0.77},{"s":12,"t":0.955,"v":-0.72},{"s":12,"t":0.985,"v":-0.70},{"s":12,"t":1.015,"v":-0.75},{"s":12,"t":1.045,"v":-0.68},{"s":12,"t":1.075,"v":-0.73},{"s":12,"t":1.105,"v":-0.71},{"s":12,"t":1.135,"v":-0.78},{"s":12,"t":1.165,"v":-0.69},{"s":12,"t":1.195,"v":-0.74},{"s":12,"t":1.225,"v":-0.70},{"s":12,"t":1.255,"v":-0.76},{"s":12,"t":1.285,"v":-0.67},{"s":12,"t":1.315,"v":-0.73},{"s":12,"t":1.345,"v":-0.71},{"s":12,"t":1.375,"v":-0.78},{"s":12,"t":1.405,"v":-0.70},{"s":12,"t":1.435,"v":-0.74},{"s":12,"t":1.465,"v":-0.68},{"s":12,"t":1.495,"v":-0.75},{"s":12,"t":1.525,"v":-0.71},{"s":12,"t":1.555,"v":-0.73},{"s":12,"t":1.585,"v":-0.69},{"s":12,"t":1.599,"v":-0.71},
{"s":12,"t":1.601,"v":-0.38},{"s":12,"t":1.62,"v":-0.47},{"s":12,"t":1.65,"v":-0.45},{"s":12,"t":1.70,"v":-0.46},{"s":12,"t":1.75,"v":-0.44},{"s":12,"t":1.80,"v":-0.47},{"s":12,"t":1.85,"v":-0.45},{"s":12,"t":1.90,"v":-0.43},{"s":12,"t":1.95,"v":-0.46},{"s":12,"t":2.00,"v":-0.44},{"s":12,"t":2.05,"v":-0.45},{"s":12,"t":2.10,"v":-0.42},{"s":12,"t":2.15,"v":-0.44},{"s":12,"t":2.20,"v":-0.46},{"s":12,"t":2.25,"v":-0.43},{"s":12,"t":2.30,"v":-0.45},{"s":12,"t":2.35,"v":-0.42},{"s":12,"t":2.40,"v":-0.44},{"s":12,"t":2.45,"v":-0.43},{"s":12,"t":2.50,"v":-0.45},{"s":12,"t":2.55,"v":-0.42},{"s":12,"t":2.599,"v":-0.43},
{"s":12,"t":2.601,"v":-0.10},{"s":12,"t":2.63,"v":-0.08},{"s":12,"t":2.66,"v":-0.06},{"s":12,"t":2.70,"v":-0.05},

{"s":13,"t":0,"v":0.01},{"s":13,"t":0.03,"v":0.0},{"s":13,"t":0.06,"v":0.01},{"s":13,"t":0.1,"v":0.0},{"s":13,"t":0.101,"v":-0.56},
{"s":13,"t":0.13,"v":-0.61},{"s":13,"t":0.16,"v":-0.70},{"s":13,"t":0.19,"v":-0.64},{"s":13,"t":0.22,"v":-0.74},{"s":13,"t":0.25,"v":-0.68},{"s":13,"t":0.28,"v":-0.72},{"s":13,"t":0.31,"v":-0.65},{"s":13,"t":0.34,"v":-0.77},{"s":13,"t":0.37,"v":-0.71},{"s":13,"t":0.40,"v":-0.69},{"s":13,"t":0.43,"v":-0.75},{"s":13,"t":0.46,"v":-0.67},{"s":13,"t":0.49,"v":-0.73},{"s":13,"t":0.52,"v":-0.70},{"s":13,"t":0.55,"v":-0.78},{"s":13,"t":0.58,"v":-0.71},{"s":13,"t":0.61,"v":-0.68},{"s":13,"t":0.64,"v":-0.74},{"s":13,"t":0.67,"v":-0.66},{"s":13,"t":0.70,"v":-0.76},{"s":13,"t":0.73,"v":-0.70},{"s":13,"t":0.76,"v":-0.73},{"s":13,"t":0.79,"v":-0.67},{"s":13,"t":0.82,"v":-0.75},{"s":13,"t":0.85,"v":-0.71},{"s":13,"t":0.88,"v":-0.69},{"s":13,"t":0.91,"v":-0.77},{"s":13,"t":0.94,"v":-0.70},{"s":13,"t":0.97,"v":-0.74},{"s":13,"t":1.00,"v":-0.68},{"s":13,"t":1.03,"v":-0.75},{"s":13,"t":1.06,"v":-0.71},
{"s":13,"t":1.074,"v":-0.82},{"s":13,"t":1.086,"v":-1.30},{"s":13,"t":1.098,"v":-1.42},{"s":13,"t":1.109,"v":-1.49},{"s":13,"t":1.117,"v":-1.60},{"s":13,"t":1.124,"v":-1.71},{"s":13,"t":1.138,"v":-1.80},{"s":13,"t":1.15,"v":-1.76},{"s":13,"t":1.161,"v":-1.78},{"s":13,"t":1.175,"v":-1.74},{"s":13,"t":1.188,"v":-1.83},{"s":13,"t":1.197,"v":-1.79},{"s":13,"t":1.206,"v":-1.76},{"s":13,"t":1.218,"v":-1.68},{"s":13,"t":1.228,"v":-1.64},{"s":13,"t":1.243,"v":-1.52},{"s":13,"t":1.258,"v":-1.40},{"s":13,"t":1.273,"v":-1.24},{"s":13,"t":1.284,"v":-1.27},{"s":13,"t":1.295,"v":-1.25},{"s":13,"t":1.31,"v":-1.29},{"s":13,"t":1.325,"v":-1.26},{"s":13,"t":1.34,"v":-1.28},{"s":13,"t":1.355,"v":-1.31},{"s":13,"t":1.366,"v":-1.27},{"s":13,"t":1.377,"v":-1.32},{"s":13,"t":1.392,"v":-1.28},{"s":13,"t":1.408,"v":-1.29},{"s":13,"t":1.425,"v":-1.27},{"s":13,"t":1.445,"v":-1.26},{"s":13,"t":1.46,"v":-1.20},{"s":13,"t":1.475,"v":-1.16},{"s":13,"t":1.49,"v":-1.13},{"s":13,"t":1.505,"v":-1.12},{"s":13,"t":1.515,"v":-1.09},{"s":13,"t":1.527,"v":-1.13},{"s":13,"t":1.542,"v":-1.10},{"s":13,"t":1.557,"v":-1.08},{"s":13,"t":1.572,"v":-1.05},{"s":13,"t":1.587,"v":-1.01},{"s":13,"t":1.597,"v":-1.04},
{"s":13,"t":1.601,"v":-0.50},{"s":13,"t":1.62,"v":-0.55},{"s":13,"t":1.65,"v":-0.52},{"s":13,"t":1.68,"v":-0.56},{"s":13,"t":1.70,"v":-0.54},{"s":13,"t":1.73,"v":-0.58},{"s":13,"t":1.75,"v":-0.53},{"s":13,"t":1.80,"v":-0.55},{"s":13,"t":1.83,"v":-0.60},{"s":13,"t":1.85,"v":-0.56},{"s":13,"t":1.86,"v":-0.65},{"s":13,"t":1.87,"v":-0.57},{"s":13,"t":1.90,"v":-0.55},{"s":13,"t":1.95,"v":-0.53},{"s":13,"t":2.00,"v":-0.55},{"s":13,"t":2.05,"v":-0.52},{"s":13,"t":2.10,"v":-0.54},{"s":13,"t":2.15,"v":-0.53},{"s":13,"t":2.20,"v":-0.51},{"s":13,"t":2.25,"v":-0.54},{"s":13,"t":2.30,"v":-0.52},{"s":13,"t":2.35,"v":-0.55},{"s":13,"t":2.38,"v":-0.57},{"s":13,"t":2.40,"v":-0.54},{"s":13,"t":2.45,"v":-0.52},{"s":13,"t":2.50,"v":-0.53},{"s":13,"t":2.55,"v":-0.51},{"s":13,"t":2.599,"v":-0.52},
{"s":13,"t":2.601,"v":-0.14},{"s":13,"t":2.62,"v":-0.11},{"s":13,"t":2.65,"v":-0.08},{"s":13,"t":2.68,"v":-0.07},{"s":13,"t":2.70,"v":-0.05}
]},
"layer": [
{"mark": {"type": "line", "color": "#ff0000", "strokeWidth": 1.7, "clip": true},
 "encoding": {
  "x": {"field": "t", "type": "quantitative", "scale": {"domain": [0, 2.7067], "nice": false, "zero": false},
        "axis": {"values": [0.1, 1.6, 2.6], "labelExpr": "toString(datum.value)", "title": "t [s]", "grid": false, "labelFlush": false,
                 "labelFont": "DejaVu Sans", "labelFontSize": 22, "labelColor": "#262626", "labelPadding": 17,
                 "titleFont": "DejaVu Sans", "titleFontSize": 25, "titleFontWeight": "normal", "titleColor": "#262626", "titlePadding": 9,
                 "tickSize": -6, "tickColor": "#262626", "domainColor": "#262626", "domainWidth": 1}},
  "y": {"field": "v", "type": "quantitative", "scale": {"domain": [-2.921, 0.453], "nice": false, "zero": false},
        "axis": {"values": [-2, -1, 0], "labelExpr": "toString(datum.value)", "title": "I [nA]", "grid": false, "labelFlush": false,
                 "labelFont": "DejaVu Sans", "labelFontSize": 22, "labelColor": "#262626", "labelPadding": 14,
                 "titleFont": "DejaVu Sans", "titleFontSize": 25, "titleFontWeight": "normal", "titleColor": "#262626", "titlePadding": 9,
                 "tickSize": -6, "tickColor": "#262626", "domainColor": "#262626", "domainWidth": 1}},
  "detail": {"field": "s", "type": "nominal"}
 }},
{"data": {"values": [{"txt": "35 °C\u00a0 Deactivation"}]},
 "mark": {"type": "text", "align": "right", "baseline": "alphabetic", "font": "DejaVu Sans", "fontSize": 19, "color": "#000000"},
 "encoding": {
  "x": {"datum": 2.698, "type": "quantitative", "scale": {"domain": [0, 2.7067], "nice": false, "zero": false}, "axis": null},
  "y": {"datum": 0.424, "type": "quantitative", "scale": {"domain": [-2.921, 0.453], "nice": false, "zero": false},
        "axis": {"orient": "right", "title": "BBP Channelpedia ID 40611 rep 2", "titleAngle": 270, "titleFont": "DejaVu Sans", "titleFontSize": 14, "titleFontWeight": "normal", "titleColor": "#000000", "titlePadding": 17, "ticks": false, "labels": false, "domain": false, "grid": false}},
  "text": {"field": "txt"}
 }}
],
"resolve": {"axis": {"x": "independent", "y": "independent"}}
}
